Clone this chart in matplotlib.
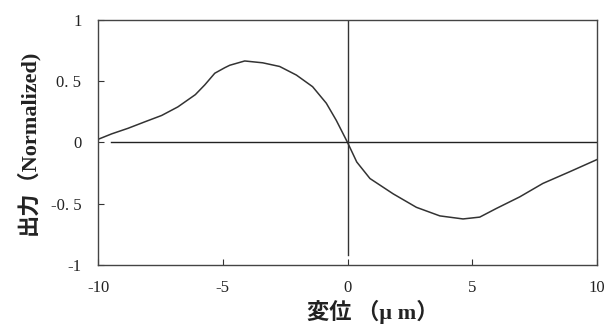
import numpy as np
import matplotlib.pyplot as plt

# displacement (um) and normalized output
disp = [-10.0, -9.45, -8.8, -8.1, -7.45, -6.8, -6.1, -5.72, -5.32, -4.92, -4.72,
        -4.12, -3.4, -2.72, -2.05, -1.4, -0.85, -0.45, 0.0,
        0.37, 0.9, 1.83, 2.76, 3.7, 4.63, 5.3, 5.96, 6.9, 7.83, 8.9, 10.0]
output = [0.025, 0.07, 0.115, 0.17, 0.22, 0.29, 0.39, 0.47, 0.565, 0.61, 0.63,
          0.665, 0.65, 0.62, 0.55, 0.455, 0.32, 0.18, 0.0,
          -0.16, -0.295, -0.42, -0.53, -0.60, -0.625, -0.61, -0.54, -0.445, -0.335, -0.24, -0.14]

xticks = [-10, -5, 0, 5, 10]
yticks = [-1, -0.5, 0, 0.5, 1]
ytick_labels = ["-1", "-0. 5", "0", "0. 5", "1"]

serif = ["Liberation Serif", "DejaVu Serif"]
mixed = ["Liberation Serif", "Noto Sans CJK JP", "DejaVu Sans"]

fig = plt.figure(figsize=(6.1, 3.27), dpi=100)
ax = fig.add_axes([0.1607, 0.19, 0.818, 0.749])

ax.plot(disp, output, color="#333333", lw=1.1)
ax.plot([-9.5, 10], [0, 0], color="#222222", lw=1.0)
ax.plot([0, 0], [-0.92, 1], color="#333333", lw=1.0)

ax.set_xlim(-10, 10)
ax.set_ylim(-1, 1)
ax.set_xticks(xticks)
ax.set_xticklabels([str(t) for t in xticks], family=serif, fontsize=12)
ax.set_yticks(yticks)
ax.set_yticklabels(ytick_labels, family=serif, fontsize=12)
ax.tick_params(direction="in", length=4, width=0.8, colors="#333333",
               labelcolor="#222222", pad=12)
ax.tick_params(axis="x", pad=11)
for s in ax.spines.values():
    s.set_color("#444444")
    s.set_linewidth(1.0)

ax.set_xlabel("変位 （μ m）", family=mixed, fontsize=16, fontweight="bold",
              color="#222222")
ax.xaxis.set_label_coords(0.55, -0.145)
ax.set_ylabel("出力（Normalized)", family=mixed, fontsize=16, fontweight="bold",
              color="#222222", labelpad=8)

fig.savefig("out.png", dpi=100)
